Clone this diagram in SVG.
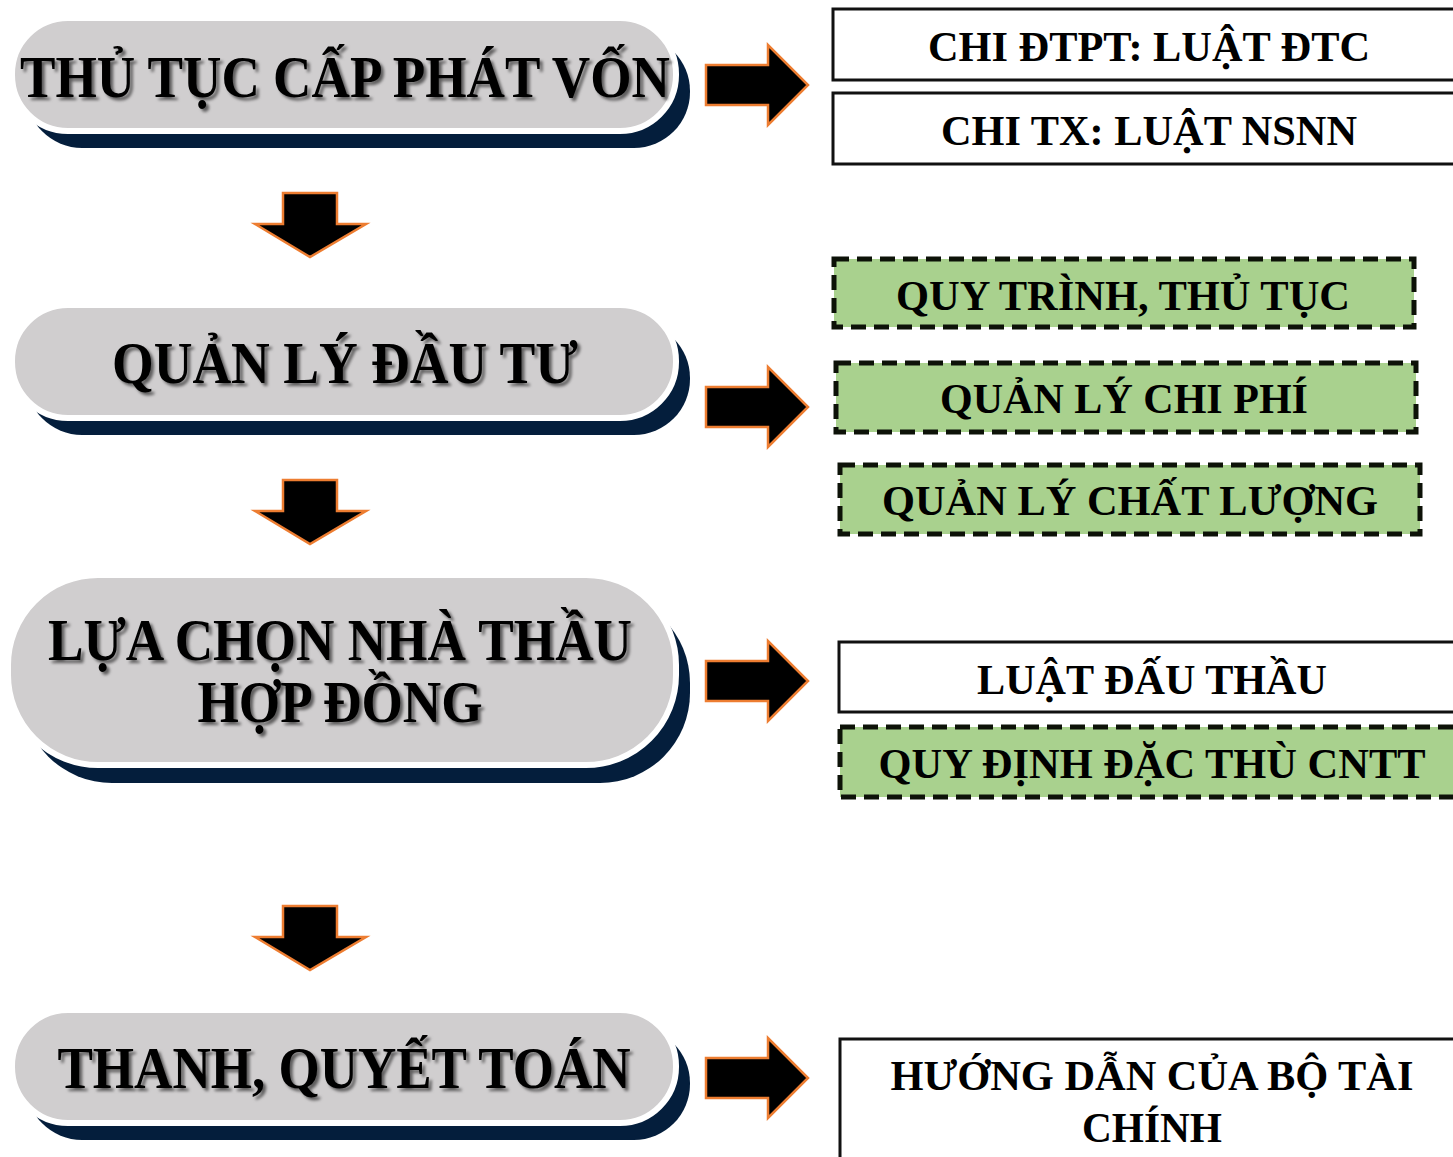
<svg xmlns="http://www.w3.org/2000/svg" width="1453" height="1157" viewBox="0 0 1453 1157">
  <defs>
    <filter id="txtShadow" x="-5%" y="-20%" width="110%" height="150%">
      <feDropShadow dx="3" dy="3" stdDeviation="1.6" flood-color="#000" flood-opacity="0.55"/>
    </filter>
    <!-- block arrows, drawn at origin and placed with translate -->
    <path id="arrowRight" d="M0,20 H62 V0 L102,40 L62,80 V60 H0 Z"/>
    <path id="arrowDown" d="M28,0 H82 V31 H111 L55,64 L0,31 H28 Z"/>
  </defs>
  <style>
    .shade { fill: #041E3C; }
    .pill { fill: #D0CECF; stroke: #FFFFFF; stroke-width: 6; }
    .pillText { font-family: "Liberation Serif", "Times New Roman", serif; font-weight: bold; font-size: 60px; fill: #000; text-anchor: middle; }
    .arrow { fill: #000; stroke: #ED7D31; stroke-width: 2.5; stroke-linejoin: miter; }
    .plain { fill: #FFFFFF; stroke: #111111; stroke-width: 3; }
    .green { fill: #A9D18E; stroke: #0D1208; stroke-width: 5; stroke-dasharray: 15 8; }
    .boxText { font-family: "Liberation Serif", "Times New Roman", serif; font-weight: bold; font-size: 43px; fill: #000; text-anchor: middle; }
  </style>

  <rect width="1453" height="1157" fill="#FFFFFF"/>

  <!-- main process steps -->
  <g id="step-cap-phat-von">
    <rect class="shade" x="26" y="35" width="664" height="113" rx="56"/>
    <rect class="pill" x="12" y="18" width="664" height="113" rx="56"/>
    <text class="pillText" x="345" y="97" textLength="650" lengthAdjust="spacingAndGlyphs" filter="url(#txtShadow)">THỦ TỤC CẤP PHÁT VỐN</text>
  </g>

  <g id="step-quan-ly-dau-tu">
    <rect class="shade" x="26" y="322" width="664" height="113" rx="56"/>
    <rect class="pill" x="12" y="305" width="664" height="113" rx="56"/>
    <text class="pillText" x="345" y="383" textLength="466" lengthAdjust="spacingAndGlyphs" filter="url(#txtShadow)">QUẢN LÝ ĐẦU TƯ</text>
  </g>

  <g id="step-lua-chon-nha-thau">
    <rect class="shade" x="22" y="593" width="668" height="190" rx="90"/>
    <rect class="pill" x="8" y="575" width="668" height="190" rx="90"/>
    <text class="pillText" x="340" y="660" textLength="584" lengthAdjust="spacingAndGlyphs" filter="url(#txtShadow)">LỰA CHỌN NHÀ THẦU</text>
    <text class="pillText" x="340" y="722" textLength="285" lengthAdjust="spacingAndGlyphs" filter="url(#txtShadow)">HỢP ĐỒNG</text>
  </g>

  <g id="step-thanh-quyet-toan">
    <rect class="shade" x="26" y="1027" width="664" height="113" rx="56"/>
    <rect class="pill" x="12" y="1010" width="664" height="113" rx="56"/>
    <text class="pillText" x="344" y="1088" textLength="573" lengthAdjust="spacingAndGlyphs" filter="url(#txtShadow)">THANH, QUYẾT TOÁN</text>
  </g>

  <!-- legal references -->
  <g id="ref-chi-dtpt">
    <rect class="plain" x="833" y="9" width="640" height="71"/>
    <text class="boxText" x="1149" y="61" textLength="442" lengthAdjust="spacingAndGlyphs">CHI ĐTPT: LUẬT ĐTC</text>
  </g>
  <g id="ref-chi-tx">
    <rect class="plain" x="833" y="93" width="640" height="71"/>
    <text class="boxText" x="1149" y="145" textLength="416" lengthAdjust="spacingAndGlyphs">CHI TX: LUẬT NSNN</text>
  </g>

  <g id="ref-quy-trinh">
    <rect class="green" x="834" y="259" width="580" height="68"/>
    <text class="boxText" x="1123" y="310" textLength="454" lengthAdjust="spacingAndGlyphs">QUY TRÌNH, THỦ TỤC</text>
  </g>
  <g id="ref-chi-phi">
    <rect class="green" x="836" y="363" width="580" height="69"/>
    <text class="boxText" x="1124" y="413" textLength="368" lengthAdjust="spacingAndGlyphs">QUẢN LÝ CHI PHÍ</text>
  </g>
  <g id="ref-chat-luong">
    <rect class="green" x="840" y="465" width="580" height="69"/>
    <text class="boxText" x="1130" y="515" textLength="496" lengthAdjust="spacingAndGlyphs">QUẢN LÝ CHẤT LƯỢNG</text>
  </g>

  <g id="ref-luat-dau-thau">
    <rect class="plain" x="839" y="642" width="640" height="70"/>
    <text class="boxText" x="1152" y="694" textLength="350" lengthAdjust="spacingAndGlyphs">LUẬT ĐẤU THẦU</text>
  </g>
  <g id="ref-cntt">
    <rect class="green" x="840" y="727" width="640" height="70"/>
    <text class="boxText" x="1152" y="778" textLength="547" lengthAdjust="spacingAndGlyphs">QUY ĐỊNH ĐẶC THÙ CNTT</text>
  </g>

  <g id="ref-bo-tai-chinh">
    <rect class="plain" x="840" y="1039" width="640" height="140"/>
    <text class="boxText" x="1152" y="1090" textLength="523" lengthAdjust="spacingAndGlyphs">HƯỚNG DẪN CỦA BỘ TÀI</text>
    <text class="boxText" x="1152" y="1142" textLength="140" lengthAdjust="spacingAndGlyphs">CHÍNH</text>
  </g>

  <!-- connectors: block arrows -->
  <g id="connectors">
    <use href="#arrowRight" class="arrow" transform="translate(706,45)"/>
    <use href="#arrowRight" class="arrow" transform="translate(706,367)"/>
    <use href="#arrowRight" class="arrow" transform="translate(706,641)"/>
    <use href="#arrowRight" class="arrow" transform="translate(706,1038)"/>
    <use href="#arrowDown" class="arrow" transform="translate(255,193)"/>
    <use href="#arrowDown" class="arrow" transform="translate(255,480)"/>
    <use href="#arrowDown" class="arrow" transform="translate(255,906)"/>
  </g>
</svg>
